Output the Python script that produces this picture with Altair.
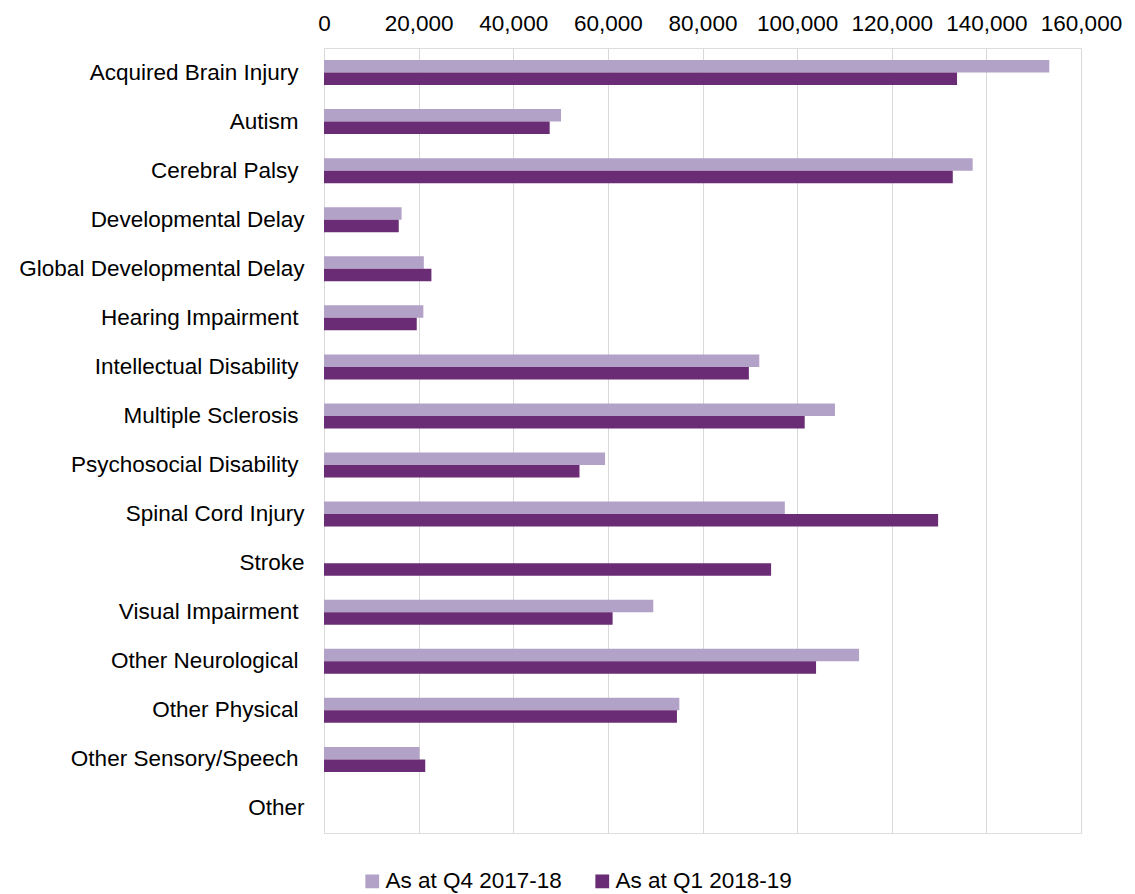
import altair as alt
import pandas as pd

categories = [
    "Acquired Brain Injury", "Autism", "Cerebral Palsy", "Developmental Delay",
    "Global Developmental Delay", "Hearing Impairment", "Intellectual Disability",
    "Multiple Sclerosis", "Psychosocial Disability", "Spinal Cord Injury", "Stroke",
    "Visual Impairment", "Other Neurological", "Other Physical",
    "Other Sensory/Speech", "Other",
]
series = ["As at Q4 2017-18", "As at Q1 2018-19"]
q4_2017_18 = [153300, 50100, 137100, 16400, 21100, 21000, 92000, 108000, 59400,
              97400, None, 69600, 113100, 75100, 20200, None]
q1_2018_19 = [133800, 47700, 132900, 15800, 22700, 19600, 89800, 101600, 54000,
              129800, 94500, 61000, 104000, 74600, 21400, None]
# labels that carry a trailing space in the original
trailing_space = [
    "Acquired Brain Injury", "Autism", "Cerebral Palsy", "Hearing Impairment",
    "Intellectual Disability", "Multiple Sclerosis", "Psychosocial Disability",
    "Visual Impairment", "Other Neurological", "Other Physical",
    "Other Sensory/Speech",
]
colors = ["#B3A2C7", "#6A2C75"]

rows = []
for c, a, b in zip(categories, q4_2017_18, q1_2018_19):
    rows.append({"category": c, "series": series[0], "value": a})
    rows.append({"category": c, "series": series[1], "value": b})
df = pd.DataFrame(rows)

FONT = "Liberation Sans"
FS = 22.5

ts_list = ",".join("'" + s.replace("'", "\\'") + "'" for s in trailing_space)
ts_test = f"indexof([{ts_list}], datum.value) >= 0"

chart = (
    alt.Chart(df)
    .mark_bar()
    .encode(
        x=alt.X(
            "value:Q",
            scale=alt.Scale(domain=[0, 160000], nice=False),
            axis=alt.Axis(
                orient="top", title=None, values=list(range(0, 160001, 20000)),
                format=",d", domain=False, ticks=False, labelPadding=13,
                labelFont=FONT, labelFontSize=FS, labelColor="#000000",
                grid=True, gridColor="#D9D9D9", gridWidth=1,
                labelFlush=False, labelOverlap=False,
            ),
        ),
        y=alt.Y(
            "category:N",
            scale=alt.Scale(domain=categories, paddingInner=0.49, paddingOuter=0.245),
            axis=alt.Axis(
                title=None, domain=False, ticks=False,
                labelPadding={"condition": {"test": ts_test, "value": 26}, "value": 20},
                labelFont=FONT, labelFontSize=FS, labelColor="#000000",
                labelLimit=400,
            ),
        ),
        yOffset=alt.YOffset("series:N", scale=alt.Scale(domain=series)),
        color=alt.Color(
            "series:N",
            scale=alt.Scale(domain=series, range=colors),
            legend=alt.Legend(
                title=None, orient="none", direction="horizontal",
                legendX=37, legendY=822,
                symbolType="square", symbolSize=190, symbolStrokeWidth=0,
                labelFont=FONT, labelFontSize=FS, labelColor="#000000",
                labelOffset=2, columnPadding=29, padding=0, labelLimit=400,
            ),
        ),
    )
    .properties(
        width=757, height=785,
        autosize=alt.AutoSizeParams(type="none"),
        padding={"left": 316, "top": 40, "right": 46, "bottom": 61},
    )
    .configure_view(stroke=None)
    .configure(background="white")
)

chart.save("out.html", embed_options={"renderer": "svg", "actions": False})
